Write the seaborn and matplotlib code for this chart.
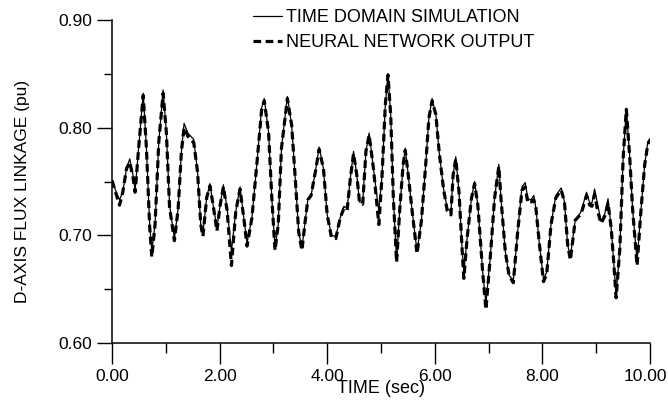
import numpy as np
import pandas as pd
import matplotlib
matplotlib.use("Agg")
import matplotlib.pyplot as plt
import matplotlib.transforms as mtransforms
import seaborn as sns

time_sec = [0.00, 0.08, 0.14, 0.20, 0.27, 0.33, 0.39, 0.43, 0.50, 0.58, 0.64, 0.70, 0.74, 0.80,
            0.87, 0.95, 1.01, 1.07, 1.16, 1.23, 1.29, 1.34, 1.41, 1.52, 1.59, 1.65, 1.69, 1.76,
            1.82, 1.88, 1.95, 2.01, 2.07, 2.14, 2.22, 2.30, 2.38, 2.45, 2.51, 2.60, 2.69, 2.78,
            2.83, 2.91, 2.97, 3.03, 3.09, 3.15, 3.26, 3.34, 3.41, 3.47, 3.53, 3.59, 3.64, 3.70,
            3.78, 3.85, 3.93, 4.00, 4.08, 4.16, 4.24, 4.31, 4.37, 4.43, 4.49, 4.55, 4.60, 4.66,
            4.72, 4.78, 4.86, 4.96, 5.02, 5.08, 5.13, 5.18, 5.23, 5.29, 5.35, 5.41, 5.45, 5.50,
            5.58, 5.67, 5.75, 5.83, 5.89, 5.95, 6.02, 6.08, 6.16, 6.23, 6.30, 6.34, 6.39, 6.45,
            6.51, 6.54, 6.60, 6.68, 6.74, 6.80, 6.84, 6.89, 6.95, 7.03, 7.11, 7.19, 7.23, 7.31,
            7.38, 7.46, 7.54, 7.62, 7.68, 7.73, 7.79, 7.84, 7.88, 7.94, 8.02, 8.08, 8.16, 8.25,
            8.35, 8.41, 8.47, 8.52, 8.61, 8.72, 8.82, 8.88, 8.92, 8.97, 9.03, 9.09, 9.16, 9.22,
            9.28, 9.33, 9.37, 9.44, 9.50, 9.56, 9.62, 9.68, 9.76, 9.83, 9.90, 9.96, 10.00]

time_domain_sim = [0.751, 0.740, 0.733, 0.740, 0.762, 0.771, 0.756, 0.742, 0.784, 0.832, 0.781, 0.710, 0.685, 0.710,
                   0.787, 0.835, 0.796, 0.728, 0.697, 0.725, 0.778, 0.804, 0.795, 0.789, 0.759, 0.710, 0.702, 0.735,
                   0.748, 0.728, 0.707, 0.728, 0.747, 0.725, 0.685, 0.722, 0.745, 0.716, 0.693, 0.716, 0.765, 0.818,
                   0.827, 0.796, 0.735, 0.688, 0.710, 0.781, 0.829, 0.802, 0.750, 0.703, 0.688, 0.713, 0.733, 0.737,
                   0.759, 0.782, 0.762, 0.719, 0.700, 0.699, 0.716, 0.727, 0.725, 0.753, 0.778, 0.756, 0.731, 0.731,
                   0.778, 0.795, 0.762, 0.722, 0.756, 0.821, 0.850, 0.812, 0.734, 0.677, 0.725, 0.765, 0.781, 0.759,
                   0.722, 0.685, 0.713, 0.765, 0.809, 0.827, 0.812, 0.778, 0.744, 0.725, 0.722, 0.756, 0.773, 0.740,
                   0.685, 0.666, 0.697, 0.734, 0.750, 0.728, 0.700, 0.666, 0.637, 0.679, 0.734, 0.766, 0.734, 0.685,
                   0.663, 0.658, 0.703, 0.745, 0.749, 0.734, 0.733, 0.737, 0.725, 0.694, 0.659, 0.666, 0.710, 0.737,
                   0.744, 0.731, 0.691, 0.680, 0.714, 0.722, 0.740, 0.730, 0.730, 0.743, 0.728, 0.713, 0.720, 0.734,
                   0.706, 0.672, 0.645, 0.688, 0.771, 0.818, 0.775, 0.722, 0.676, 0.722, 0.765, 0.787, 0.790]

neural_net_out = [0.751, 0.738, 0.728, 0.740, 0.762, 0.768, 0.754, 0.740, 0.784, 0.830, 0.781, 0.708, 0.680, 0.710,
                  0.787, 0.832, 0.796, 0.726, 0.695, 0.725, 0.778, 0.800, 0.792, 0.786, 0.759, 0.710, 0.699, 0.735,
                  0.746, 0.728, 0.704, 0.728, 0.745, 0.723, 0.672, 0.722, 0.743, 0.716, 0.690, 0.716, 0.765, 0.816,
                  0.825, 0.796, 0.735, 0.686, 0.710, 0.781, 0.827, 0.802, 0.750, 0.703, 0.686, 0.713, 0.733, 0.737,
                  0.759, 0.780, 0.762, 0.719, 0.698, 0.697, 0.716, 0.725, 0.723, 0.753, 0.776, 0.756, 0.731, 0.729,
                  0.778, 0.793, 0.762, 0.710, 0.756, 0.821, 0.849, 0.812, 0.734, 0.675, 0.725, 0.765, 0.779, 0.759,
                  0.722, 0.683, 0.713, 0.765, 0.809, 0.825, 0.812, 0.778, 0.744, 0.723, 0.719, 0.756, 0.771, 0.740,
                  0.685, 0.660, 0.697, 0.734, 0.748, 0.728, 0.700, 0.666, 0.631, 0.679, 0.734, 0.764, 0.734, 0.685,
                  0.663, 0.656, 0.703, 0.742, 0.745, 0.730, 0.731, 0.733, 0.725, 0.694, 0.657, 0.664, 0.710, 0.735,
                  0.742, 0.731, 0.691, 0.677, 0.714, 0.720, 0.737, 0.728, 0.727, 0.738, 0.722, 0.711, 0.718, 0.730,
                  0.706, 0.672, 0.642, 0.688, 0.771, 0.817, 0.775, 0.722, 0.672, 0.722, 0.765, 0.785, 0.788]

x_ticks = [0, 2, 4, 6, 8, 10]
x_tick_labels = ["0.00", "2.00", "4.00", "6.00", "8.00", "10.00"]
y_ticks = [0.60, 0.70, 0.80, 0.90]
y_tick_labels = ["0.60", "0.70", "0.80", "0.90"]

sns.set_theme(style="ticks")
plt.rcParams['font.family'] = ['Liberation Sans', 'DejaVu Sans']

fig = plt.figure(figsize=(6.68, 4.07), dpi=100)
ax = fig.add_axes([112/668, 1 - 343/407, (650-112)/668, (343-20)/407])

df = pd.DataFrame({"t": time_sec, "sim": time_domain_sim, "nn": neural_net_out})

sns.lineplot(data=df, x="t", y="sim", ax=ax, color="black", linewidth=0.9,
             label="TIME DOMAIN SIMULATION")
sns.lineplot(data=df, x="t", y="nn", ax=ax, color="black", linewidth=2.3,
             label="NEURAL NETWORK OUTPUT")
ax.lines[1].set_dashes((2.4, 1.4))

ax.set_xlim(0, 10)
ax.set_ylim(0.60, 0.90)
ax.set_xticks(x_ticks)
ax.set_xticklabels(x_tick_labels)
ax.set_yticks(y_ticks)
ax.set_yticklabels(y_tick_labels)
ax.set_xticks([1, 3, 5, 7, 9], minor=True)
ax.set_yticks([0.65, 0.75, 0.85], minor=True)

ax.tick_params(axis="x", which="major", direction="out", length=15, width=1.0, colors="black",
               labelsize=12.5, pad=4)
ax.tick_params(axis="x", which="minor", direction="out", length=7, width=1.0, colors="black")
ax.tick_params(axis="y", which="major", direction="out", length=11, width=1.0, colors="black",
               labelsize=12.5, pad=3)
ax.tick_params(axis="y", which="minor", direction="out", length=6, width=1.0, colors="black")

# nudge the last x tick label so it stays inside the figure
last = ax.get_xticklabels()[-1]
last.set_transform(last.get_transform() + mtransforms.ScaledTranslation(-5/100, 0, fig.dpi_scale_trans))

for s in ["top", "right"]:
    ax.spines[s].set_visible(False)
for s in ["left", "bottom"]:
    ax.spines[s].set_color("black")
    ax.spines[s].set_linewidth(1.1)

ax.set_xlabel("TIME (sec)", fontsize=13, color="black", labelpad=-3)
ax.set_ylabel("D-AXIS FLUX LINKAGE (pu)", fontsize=12.5, color="black")
ax.yaxis.set_label_coords(-0.152, 0.47)

leg = ax.legend(loc="upper left", bbox_to_anchor=(253/668, 1 - 9/407), bbox_transform=fig.transFigure,
                frameon=False, fontsize=13, handlelength=1.6, handletextpad=0.25,
                borderpad=0, borderaxespad=0, labelspacing=0.45)
for txt in leg.get_texts():
    txt.set_color("black")

fig.savefig("out.png", dpi=100, facecolor="white")
